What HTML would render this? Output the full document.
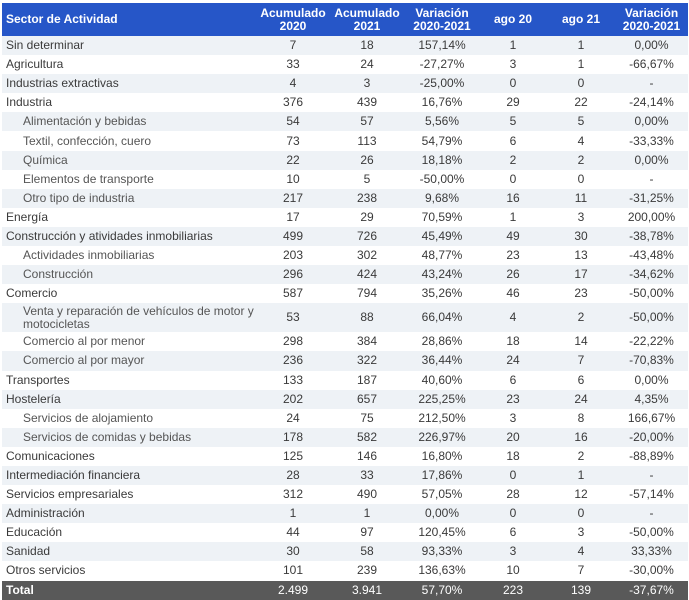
<!DOCTYPE html>
<html><head><meta charset="utf-8"><style>
body{margin:0;width:689px;height:600px;background:#fff;font-family:"Liberation Sans",sans-serif;overflow:hidden}
table{position:absolute;left:2px;top:3px;width:686px;border-collapse:collapse;table-layout:fixed}
td,th{padding:0;font-size:12px;color:#3a3a3a;white-space:nowrap;text-align:center;height:19.1px;line-height:13px}
th{background:#2656c8;color:#fff;font-weight:bold;height:33px;font-size:12px}
th.n{text-align:left;padding-left:4px}
td.n{text-align:left;padding-left:4px}
td.s{padding-left:21px;color:#555}
tr.z td{background:#eef2f6}
tr.t td{background:#595959;color:#fff;height:19px}
tr.t td.n{font-weight:bold}
tr.tall td{height:29px}
td.w{white-space:normal;line-height:13px}
</style></head><body>
<table>
<colgroup><col style="width:255px"><col style="width:72px"><col style="width:76px"><col style="width:74px"><col style="width:68px"><col style="width:68px"><col style="width:73px"></colgroup>
<thead><tr>
<th class="n">Sector de Actividad</th>
<th>Acumulado<br>2020</th>
<th>Acumulado<br>2021</th>
<th>Variación<br>2020-2021</th>
<th>ago 20</th>
<th>ago 21</th>
<th>Variación<br>2020-2021</th>
</tr></thead>
<tbody id="tb"></tbody>
</table>
<script>
const rows=[
["Sin determinar",0,"7","18","157,14%","1","1","0,00%"],
["Agricultura",0,"33","24","-27,27%","3","1","-66,67%"],
["Industrias extractivas",0,"4","3","-25,00%","0","0","-"],
["Industria",0,"376","439","16,76%","29","22","-24,14%"],
["Alimentación y bebidas",1,"54","57","5,56%","5","5","0,00%"],
["Textil, confección, cuero",1,"73","113","54,79%","6","4","-33,33%"],
["Química",1,"22","26","18,18%","2","2","0,00%"],
["Elementos de transporte",1,"10","5","-50,00%","0","0","-"],
["Otro tipo de industria",1,"217","238","9,68%","16","11","-31,25%"],
["Energía",0,"17","29","70,59%","1","3","200,00%"],
["Construcción y atividades inmobiliarias",0,"499","726","45,49%","49","30","-38,78%"],
["Actividades inmobiliarias",1,"203","302","48,77%","23","13","-43,48%"],
["Construcción",1,"296","424","43,24%","26","17","-34,62%"],
["Comercio",0,"587","794","35,26%","46","23","-50,00%"],
["Venta y reparación de vehículos de motor y motocicletas",1,"53","88","66,04%","4","2","-50,00%"],
["Comercio al por menor",1,"298","384","28,86%","18","14","-22,22%"],
["Comercio al por mayor",1,"236","322","36,44%","24","7","-70,83%"],
["Transportes",0,"133","187","40,60%","6","6","0,00%"],
["Hostelería",0,"202","657","225,25%","23","24","4,35%"],
["Servicios de alojamiento",1,"24","75","212,50%","3","8","166,67%"],
["Servicios de comidas y bebidas",1,"178","582","226,97%","20","16","-20,00%"],
["Comunicaciones",0,"125","146","16,80%","18","2","-88,89%"],
["Intermediación financiera",0,"28","33","17,86%","0","1","-"],
["Servicios empresariales",0,"312","490","57,05%","28","12","-57,14%"],
["Administración",0,"1","1","0,00%","0","0","-"],
["Educación",0,"44","97","120,45%","6","3","-50,00%"],
["Sanidad",0,"30","58","93,33%","3","4","33,33%"],
["Otros servicios",0,"101","239","136,63%","10","7","-30,00%"],
["Total",2,"2.499","3.941","57,70%","223","139","-37,67%"]
];
const tb=document.getElementById('tb');
rows.forEach((r,i)=>{
  const tr=document.createElement('tr');
  
  
  if(r[1]===2)tr.className='t';else if(i%2===0)tr.className='z';
  if(i===14)tr.className+=' tall';
  for(let c=0;c<7;c++){
    const td=document.createElement('td');
    
    
    if(c===0){td.className='n'+(r[1]===1?' s':'')+(i===14?' w':'');td.textContent=r[0];}
    else td.textContent=r[c+1];
    tr.appendChild(td);
  }
  tb.appendChild(tr);
});
</script>
</body></html>
